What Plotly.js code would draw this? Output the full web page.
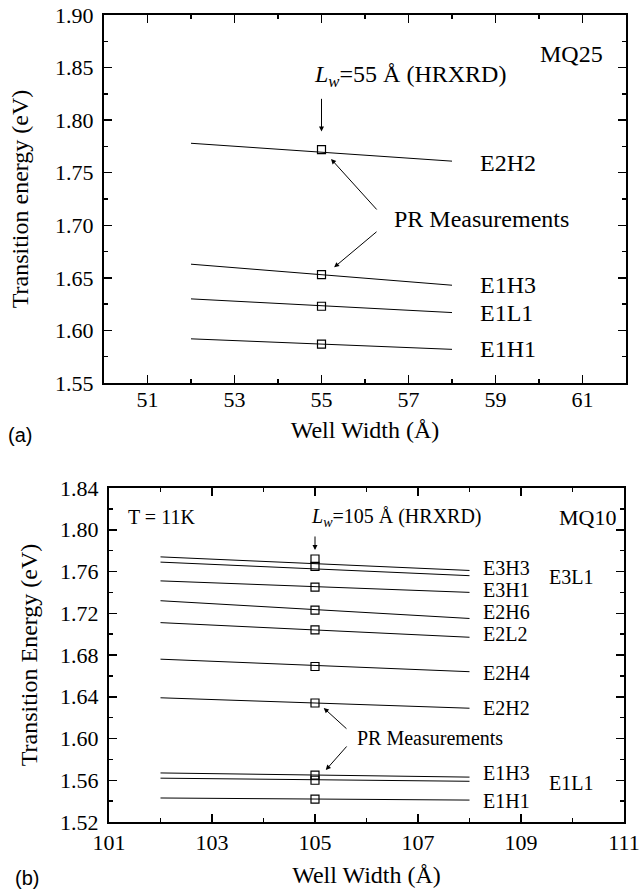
<!DOCTYPE html>
<html>
<head>
<meta charset="utf-8">
<script src="https://cdn.plot.ly/plotly-3.0.1.min.js"></script>
<style>html,body{margin:0;padding:0;background:#fff;}#chart{width:640px;height:892px;}</style>
</head>
<body>
<div id="chart"></div>
<script>
// ---------- Data: panel (a) MQ25 ----------
const wellWidthA = [52, 58];          // calculation range (Å)
const lwA = 55;                       // HRXRD well width (Å)
const labelsA = ['E2H2', 'E1H3', 'E1L1', 'E1H1'];
const calcStartA = [1.778, 1.663, 1.630, 1.592];   // eV at 52 Å
const calcEndA   = [1.761, 1.643, 1.617, 1.582];   // eV at 58 Å
const prA        = [1.772, 1.653, 1.623, 1.587];   // PR measurements at 55 Å

// ---------- Data: panel (b) MQ10 ----------
const wellWidthB = [102, 108];
const lwB = 105;
const labelsB = ['E3H3', 'E3L1', 'E3H1', 'E2H6', 'E2L2', 'E2H4', 'E2H2', 'E1H3', 'E1L1', 'E1H1'];
const calcStartB = [1.774, 1.769, 1.751, 1.732, 1.711, 1.676, 1.639, 1.567, 1.562, 1.543];
const calcEndB   = [1.761, 1.756, 1.740, 1.715, 1.697, 1.664, 1.629, 1.563, 1.559, 1.541];
const prB        = [1.772, 1.765, 1.745, 1.723, 1.704, 1.669, 1.634, 1.565, 1.560, 1.542];

const ticksA_x = [51, 53, 55, 57, 59, 61];
const ticksB_x = [101, 103, 105, 107, 109, 111];

// ---------- Styling ----------
const SERIF = 'Liberation Serif';
const SANS = 'Liberation Sans';
const W = 640, H = 892;
const px = v => v / W;
const py = v => (H - v) / H;

const traces = [];
labelsA.forEach((lab, i) => {
  traces.push({x: wellWidthA, y: [calcStartA[i], calcEndA[i]], mode: 'lines', line: {color: '#000', width: 1}, xaxis: 'x', yaxis: 'y', name: lab, showlegend: false, hoverinfo: 'skip'});
});
traces.push({x: prA.map(() => lwA), y: prA, mode: 'markers', marker: {symbol: 'square-open', size: 8, color: '#000', line: {width: 1.2, color: '#000'}}, xaxis: 'x', yaxis: 'y', showlegend: false, name: 'PR'});
labelsB.forEach((lab, i) => {
  traces.push({x: wellWidthB, y: [calcStartB[i], calcEndB[i]], mode: 'lines', line: {color: '#000', width: 1}, xaxis: 'x2', yaxis: 'y2', name: lab, showlegend: false, hoverinfo: 'skip'});
});
traces.push({x: prB.map(() => lwB), y: prB, mode: 'markers', marker: {symbol: 'square-open', size: 8, color: '#000', line: {width: 1.2, color: '#000'}}, xaxis: 'x2', yaxis: 'y2', showlegend: false, name: 'PR'});

const axisCommon = {
  showline: true, linecolor: '#000', linewidth: 2, mirror: 'ticks',
  ticks: 'inside', ticklen: 8, tickwidth: 1.5, tickcolor: '#000',
  showgrid: false, zeroline: false,
  tickfont: {family: SERIF, size: 22, color: '#000'},
  automargin: false
};

const annFontA = {family: SERIF, size: 24, color: '#000'};
const annFontB = {family: SERIF, size: 20, color: '#000'};

const annotations = [];
// Panel (a) curve labels
const shiftA = [-2, 0, 0, 0];
labelsA.forEach((lab, i) => {
  annotations.push({xref: 'x', yref: 'y', x: 58.6, y: calcEndA[i], yshift: shiftA[i], text: lab, showarrow: false, xanchor: 'left', yanchor: 'middle', font: annFontA});
});
annotations.push({xref: 'x', yref: 'y', x: 59.98, y: 1.8625, text: 'MQ25', showarrow: false, xanchor: 'left', yanchor: 'middle', font: annFontA});
annotations.push({xref: 'x', yref: 'y', x: 54.78, y: 1.8417, text: '<i>L</i><sub><i>w</i></sub>=55 Å (HRXRD)', showarrow: false, xanchor: 'left', yanchor: 'middle', font: annFontA});
annotations.push({xref: 'x', yref: 'y', x: lwA, y: 1.7893, ax: lwA, ay: 1.8217, axref: 'x', ayref: 'y', text: '', showarrow: true, arrowhead: 2, arrowsize: 1, arrowwidth: 1, arrowcolor: '#000'});
annotations.push({xref: 'x', yref: 'y', x: 56.62, y: 1.706, text: 'PR Measurements', showarrow: false, xanchor: 'left', yanchor: 'middle', font: annFontA});
annotations.push({xref: 'x', yref: 'y', x: 55.22, y: 1.763, ax: 56.3, ay: 1.7136, axref: 'x', ayref: 'y', text: '', showarrow: true, arrowhead: 2, arrowsize: 1, arrowwidth: 1, arrowcolor: '#000'});
annotations.push({xref: 'x', yref: 'y', x: 55.29, y: 1.660, ax: 56.3, ay: 1.695, axref: 'x', ayref: 'y', text: '', showarrow: true, arrowhead: 2, arrowsize: 1, arrowwidth: 1, arrowcolor: '#000'});
annotations.push({xref: 'paper', yref: 'paper', x: px(6), y: py(435), text: '(a)', showarrow: false, xanchor: 'left', yanchor: 'middle', font: {family: SANS, size: 20, color: '#000'}});

// Panel (b) curve labels
const labelXB = {E3L1: 109.5, E1L1: 109.5};
const shiftB = {E3H3: 2.5, E3L1: -1, E3H1: 2, E2H6: 6.5, E2L2: 3, E2H4: -1, E2H2: 0, E1H3: 4, E1L1: -2, E1H1: -1};
labelsB.forEach((lab, i) => {
  annotations.push({xref: 'x2', yref: 'y2', x: labelXB[lab] || 108.22, y: calcEndB[i], yshift: shiftB[lab], text: lab, showarrow: false, xanchor: 'left', yanchor: 'middle', font: annFontB});
});
annotations.push({xref: 'x2', yref: 'y2', x: 101.33, y: 1.8122, text: 'T = 11K', showarrow: false, xanchor: 'left', yanchor: 'middle', font: annFontB});
annotations.push({xref: 'x2', yref: 'y2', x: 104.88, y: 1.8113, text: '<i>L</i><sub><i>w</i></sub>=105 Å (HRXRD)', showarrow: false, xanchor: 'left', yanchor: 'middle', font: annFontB});
annotations.push({xref: 'x2', yref: 'y2', x: 109.7, y: 1.8113, text: 'MQ10', showarrow: false, xanchor: 'left', yanchor: 'middle', font: {family: SERIF, size: 22, color: '#000'}});
annotations.push({xref: 'x2', yref: 'y2', x: lwB, y: 1.7806, ax: lwB, ay: 1.795, axref: 'x2', ayref: 'y2', text: '', showarrow: true, arrowhead: 2, arrowsize: 1, arrowwidth: 1, arrowcolor: '#000'});
annotations.push({xref: 'x2', yref: 'y2', x: 105.78, y: 1.6005, text: 'PR Measurements', showarrow: false, xanchor: 'left', yanchor: 'middle', font: annFontB});
annotations.push({xref: 'x2', yref: 'y2', x: 105.17, y: 1.6292, ax: 105.64, ay: 1.6081, axref: 'x2', ayref: 'y2', text: '', showarrow: true, arrowhead: 2, arrowsize: 1, arrowwidth: 1, arrowcolor: '#000'});
annotations.push({xref: 'x2', yref: 'y2', x: 105.21, y: 1.5698, ax: 105.64, ay: 1.5938, axref: 'x2', ayref: 'y2', text: '', showarrow: true, arrowhead: 2, arrowsize: 1, arrowwidth: 1, arrowcolor: '#000'});
annotations.push({xref: 'paper', yref: 'paper', x: px(13), y: py(878), text: '(b)', showarrow: false, xanchor: 'left', yanchor: 'middle', font: {family: SANS, size: 20, color: '#000'}});

const titleFont = {family: SERIF, size: 24, color: '#000'};

const layout = {
  width: W, height: H,
  margin: {l: 0, r: 0, t: 0, b: 0},
  paper_bgcolor: '#fff', plot_bgcolor: '#fff',
  showlegend: false,
  font: {family: SERIF, color: '#000'},
  xaxis: Object.assign({}, axisCommon, {
    domain: [px(104), px(626)], anchor: 'y', range: [50, 62],
    tickmode: 'array', tickvals: ticksA_x, ticktext: ticksA_x.map(String),
    minor: {tickmode: 'linear', tick0: 50, dtick: 1, ticks: 'inside', ticklen: 4, tickwidth: 1.5, tickcolor: '#000'},
    title: {text: 'Well Width (Å)', font: titleFont, standoff: 10},
    ticklabelstandoff: -4
  }),
  yaxis: Object.assign({}, axisCommon, {
    domain: [py(383), py(15)], anchor: 'x', range: [1.55, 1.90],
    tick0: 1.55, dtick: 0.05, tickformat: '.2f',
    minor: {tick0: 1.55, dtick: 0.025, ticks: 'inside', ticklen: 4, tickwidth: 1.5, tickcolor: '#000'},
    title: {text: 'Transition energy (eV)', font: titleFont, standoff: 20},
    ticklabelstandoff: 4
  }),
  xaxis2: Object.assign({}, axisCommon, {
    domain: [px(109), px(624)], anchor: 'y2', range: [101, 111],
    tickmode: 'array', tickvals: ticksB_x, ticktext: ticksB_x.map(String),
    minor: {tickmode: 'linear', tick0: 101, dtick: 1, ticks: 'inside', ticklen: 4, tickwidth: 1.5, tickcolor: '#000'},
    title: {text: 'Well Width (Å)', font: titleFont, standoff: 12},
    ticklabelstandoff: 0
  }),
  yaxis2: Object.assign({}, axisCommon, {
    domain: [py(822), py(488)], anchor: 'x2', range: [1.52, 1.84],
    tick0: 1.52, dtick: 0.04, tickformat: '.2f',
    minor: {tick0: 1.52, dtick: 0.02, ticks: 'inside', ticklen: 4, tickwidth: 1.5, tickcolor: '#000'},
    title: {text: 'Transition Energy (eV)', font: titleFont, standoff: 16},
    ticklabelstandoff: 4
  }),
  annotations: annotations
};

Plotly.newPlot('chart', traces, layout, {staticPlot: true, displayModeBar: false});
</script>
</body>
</html>
